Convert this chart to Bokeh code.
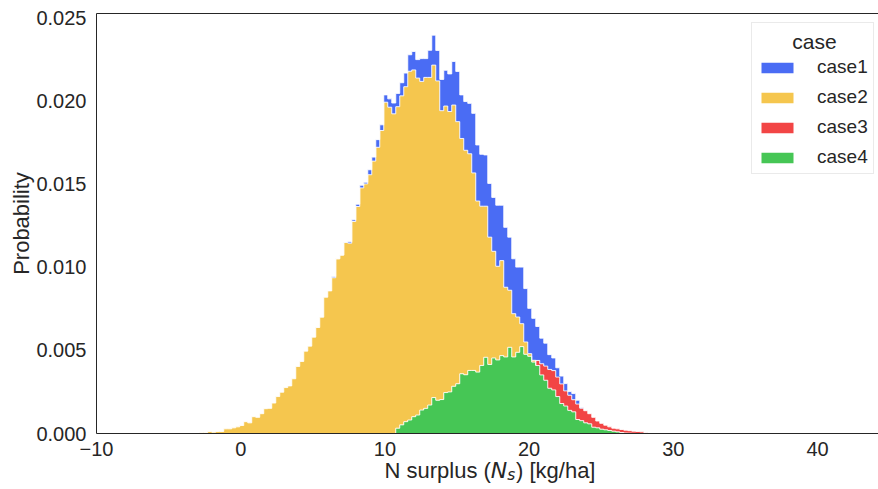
import numpy as np
from bokeh.plotting import figure
from bokeh.models import (Range1d, FixedTicker, Legend, LegendItem, Label,
                          NumeralTickFormatter)
from bokeh.embed import file_html
from bokeh.resources import INLINE

# ---- data (probability per bin) ----
bin_start = -2.84
bin_width = 0.2774
n_bins = 115
cases = ["case1", "case2", "case3", "case4"]

case1_first = 33
case1 = [0.00008, 0.0, 0.0, 0.00003, 0.00008, 0.0001, 0.00014, 0.00016, 0.0001, 0.0003,
         0.00024, 0.00046, 0.00034, 0.00044, 0.0005, 0.00065, 0.0008, 0.00079, 0.00082, 0.00099,
         0.00111, 0.00111, 0.00137, 0.00113, 0.00163, 0.0018, 0.00183, 0.00188, 0.00215, 0.00226,
         0.00262, 0.00302, 0.00262, 0.00293, 0.00303, 0.00358, 0.00337, 0.00312, 0.00308, 0.00323,
         0.00324, 0.00367, 0.00333, 0.0036, 0.00319, 0.0033, 0.003, 0.0034, 0.00321, 0.00272,
         0.00252, 0.00204, 0.00154, 0.00138, 0.00089, 0.00076, 0.00056, 0.00047, 0.00044, 0.00022,
         0.00037, 0.00023, 0.00005]

case2_first = 0
case2 = [0.00006, 0.00006, 0.00012, 0.00008, 0.00012, 0.00012, 0.00028, 0.00028, 0.00034, 0.0004,
         0.00048, 0.00071, 0.00064, 0.00101, 0.00097, 0.00119, 0.00149, 0.00151, 0.00183, 0.00222,
         0.00248, 0.00276, 0.00286, 0.00329, 0.00403, 0.00433, 0.00495, 0.00525, 0.00579, 0.00637,
         0.00699, 0.00819, 0.00857, 0.00936, 0.0105, 0.01072, 0.01148, 0.01144, 0.01274, 0.01364,
         0.01476, 0.015, 0.01555, 0.01637, 0.0172, 0.01821, 0.01991, 0.01961, 0.01921, 0.01932,
         0.01977, 0.02013, 0.02096, 0.02084, 0.02025, 0.01975, 0.01989, 0.01969, 0.01998, 0.01919,
         0.01736, 0.01722, 0.01685, 0.0169, 0.01575, 0.01414, 0.01349, 0.01302, 0.01187, 0.01028,
         0.00957, 0.00908, 0.00765, 0.00641, 0.00563, 0.00571, 0.00419, 0.00343, 0.0026, 0.00212,
         0.00138, 0.00074, 0.00016, 0.00011]

case3_first = 84
case3 = [0.0003, 0.00067, 0.00085, 0.00113, 0.00116, 0.00117, 0.00118, 0.00091, 0.00091, 0.00073,
         0.00093, 0.00075, 0.00073, 0.00061, 0.00059, 0.00041, 0.00035, 0.00028, 0.00022, 0.00018,
         0.00018, 0.00018, 0.00017, 0.00015, 0.00013, 0.00012, 0.0001, 0.00006, 0.00003, 0.00003,
         0.00002]

case4_first = 49
case4 = [0.00032, 0.00052, 0.00071, 0.00081, 0.00101, 0.00111, 0.00141, 0.00151, 0.00171, 0.00216,
         0.002, 0.00204, 0.00246, 0.0025, 0.00284, 0.00299, 0.00359, 0.00353, 0.00379, 0.00379,
         0.00369, 0.00409, 0.00458, 0.00415, 0.00454, 0.00442, 0.00468, 0.0046, 0.00518, 0.0046,
         0.00488, 0.00522, 0.00476, 0.00464, 0.00429, 0.00409, 0.00352, 0.0032, 0.00272, 0.00262,
         0.00222, 0.0018, 0.00165, 0.00139, 0.0013, 0.00084, 0.00077, 0.00064, 0.00058, 0.00038,
         0.00034, 0.00026, 0.00022, 0.00018, 0.00014, 0.0001, 0.00006, 0.00003, 0.00002, 0.00001]

x_ticks = [-10, 0, 10, 20, 30, 40]
x_tick_labels = ["\u221210", "0", "10", "20", "30", "40"]
y_ticks = [0.0, 0.005, 0.010, 0.015, 0.020, 0.025]
x_lo, x_hi = -10, 44.23
y_top = 0.02524

colors = {"case1": "#4a6cf4", "case2": "#f5c64e", "case3": "#f24545", "case4": "#46c655"}
TXT = "#262626"
FONT = "Liberation Sans"


def full(first, vals):
    arr = np.zeros(n_bins)
    arr[first:first + len(vals)] = vals
    return arr


vals = {"case1": full(case1_first, case1), "case2": full(case2_first, case2),
        "case3": full(case3_first, case3), "case4": full(case4_first, case4)}
firsts = {"case1": case1_first, "case2": case2_first, "case3": case3_first, "case4": case4_first}
lens = {"case1": len(case1), "case2": len(case2), "case3": len(case3), "case4": len(case4)}

edges = bin_start + bin_width * np.arange(n_bins + 1)

# canvas geometry: the frame covers the whole canvas, axes are placed inside it
W, H = 878, 489
ax_left_px, ax_bottom_px = 96, 433
px_x = (W - ax_left_px) / (x_hi - x_lo)
px_y = 16640.0
x_start = x_lo - ax_left_px / px_x
y_end = ax_bottom_px / px_y
y_start = -(H - ax_bottom_px) / px_y

p = figure(width=W, height=H, output_backend="svg", toolbar_location=None,
           x_range=Range1d(x_start, x_hi), y_range=Range1d(y_start, y_end),
           min_border_left=0, min_border_right=0, min_border_top=0, min_border_bottom=0)
p.background_fill_color = "white"
p.border_fill_color = "white"
p.outline_line_color = None
p.xgrid.visible = False
p.ygrid.visible = False

# stack: case4 at the bottom, then case3, case2, case1 on top
base = np.zeros(n_bins)
renderers = {}
tops = {}
bases = {}
for c in ["case4", "case3", "case2", "case1"]:
    top = base + vals[c]
    tops[c] = top
    bases[c] = base.copy()
    base = top

for c in ["case4", "case3", "case2", "case1"]:
    f = firsts[c]
    l = f + lens[c] - 1
    xs, ys = [], []
    for k in range(f, l + 1):
        xs += [edges[k], edges[k + 1]]
        ys += [tops[c][k], tops[c][k]]
    for k in range(l, f - 1, -1):
        xs += [edges[k + 1], edges[k]]
        ys += [bases[c][k], bases[c][k]]
    renderers[c] = p.patch(xs, ys, fill_color=colors[c], line_color=None)

# white bar edges along the top of each layer
for c in ["case4", "case3", "case2", "case1"]:
    f = firsts[c]
    l = f + lens[c] - 1
    xs = [edges[f]]
    ys = [bases[c][f]]
    for k in range(f, l + 1):
        xs += [edges[k], edges[k + 1]]
        ys += [tops[c][k], tops[c][k]]
    xs.append(edges[l + 1])
    ys.append(bases[c][l])
    p.line(xs, ys, line_color="white", line_width=1, line_alpha=0.85)

# top spine
p.line([x_lo, x_hi], [y_top, y_top], line_color=TXT, line_width=1)

# axes (fixed inside the frame)
p.xaxis.fixed_location = 0
p.xaxis.bounds = (x_lo, x_hi)
p.xaxis.ticker = FixedTicker(ticks=x_ticks)
p.xaxis.major_label_overrides = {t: s for t, s in zip(x_ticks, x_tick_labels)}
p.yaxis.fixed_location = x_lo
p.yaxis.bounds = (0, y_top)
p.yaxis.ticker = FixedTicker(ticks=y_ticks)
p.yaxis.formatter = NumeralTickFormatter(format="0.000")
for ax in (p.xaxis[0], p.yaxis[0]):
    ax.major_tick_out = 0
    ax.major_tick_in = 0
    ax.minor_tick_out = 0
    ax.minor_tick_in = 0
    ax.axis_line_color = TXT
    ax.major_label_text_font = FONT
    ax.major_label_text_font_size = "20px"
    ax.major_label_text_color = TXT
p.yaxis.major_label_standoff = 10
p.xaxis.major_label_standoff = 8

# y label
p.add_layout(Label(x=21, y=H - 223, x_units="screen", y_units="screen", text="Probability",
                   angle=np.pi / 2, text_align="center", text_baseline="middle",
                   text_font=FONT, text_font_size="22px", text_color=TXT))

# x label built from pieces: "N surplus (" + italic N + subscript s + ") [kg/ha]"
lab_y = H - 470
p.add_layout(Label(x=384, y=lab_y, x_units="screen", y_units="screen", text="N surplus (",
                   text_font=FONT, text_font_size="22px", text_color=TXT, text_baseline="alphabetic"))
p.add_layout(Label(x=490.3, y=lab_y, x_units="screen", y_units="screen", text="N",
                   text_font="DejaVu Sans", text_font_style="italic", text_font_size="22px",
                   text_color=TXT, text_baseline="alphabetic"))
p.add_layout(Label(x=506.8, y=lab_y - 4, x_units="screen", y_units="screen", text="s",
                   text_font="DejaVu Sans", text_font_style="italic", text_font_size="15.4px",
                   text_color=TXT, text_baseline="alphabetic"))
p.add_layout(Label(x=515.5, y=lab_y, x_units="screen", y_units="screen", text=") [kg/ha]",
                   text_font=FONT, text_font_size="22px", text_color=TXT, text_baseline="alphabetic"))

# legend title, centred over the legend box
p.add_layout(Label(x=814, y=H - 41, x_units="screen", y_units="screen", text="case",
                   text_align="center", text_baseline="middle",
                   text_font=FONT, text_font_size="21px", text_color=TXT))

legend = Legend(items=[LegendItem(label=c, renderers=[renderers[c]]) for c in cases],
                title=" ", location=(751, H - 174))
legend.title_text_font = FONT
legend.title_text_font_size = "21px"
legend.title_text_color = TXT
legend.title_text_font_style = "normal"
legend.title_standoff = 4
legend.label_text_font = FONT
legend.label_text_font_size = "19px"
legend.label_text_color = TXT
legend.glyph_width = 40
legend.glyph_height = 13
legend.label_height = 22
legend.label_standoff = 20
legend.padding = 5
legend.spacing = 8
legend.border_line_color = "#d6d6d6"
legend.border_line_width = 1
legend.background_fill_alpha = 0.0
p.add_layout(legend)

open("out.html", "w").write(file_html(p, INLINE))
